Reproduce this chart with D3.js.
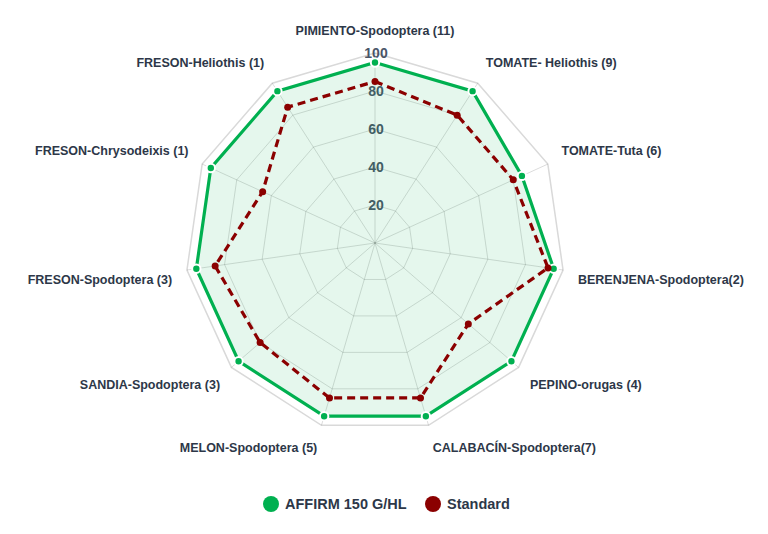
<!DOCTYPE html>
<html lang="es">
<head>
    <meta charset="UTF-8" />
    <title>Radar AFFIRM vs Standard</title>
    <script src="https://d3js.org/d3.v7.min.js"></script>
    <style>
        body {
            margin: 0;
            background: #fff;
            font-family: "Liberation Sans", Arial, sans-serif;
        }
        .point-label {
            font-size: 12.5px;
            font-weight: bold;
            fill: #2d3748;
        }
        .tick-label {
            font-size: 14px;
            font-weight: bold;
            fill: #4a5568;
        }
        .legend text {
            font-size: 14.5px;
            font-weight: bold;
            fill: #2d3748;
        }
    </style>
</head>
<body>
<svg id="chart" width="768" height="534"></svg>
<script>
    // Datos
    const categories = [
        "PIMIENTO-Spodoptera (11)",
        "TOMATE- Heliothis (9)",
        "TOMATE-Tuta (6)",
        "BERENJENA-Spodoptera(2)",
        "PEPINO-orugas (4)",
        "CALABACÍN-Spodoptera(7)",
        "MELON-Spodoptera (5)",
        "SANDIA-Spodoptera (3)",
        "FRESON-Spodoptera (3)",
        "FRESON-Chrysodeixis (1)",
        "FRESON-Heliothis (1)"
    ];
    const affirmValues = [95, 95, 85, 95, 95, 95, 95, 95, 95, 95, 95];
    const standardValues = [85, 80, 80, 92, 65, 85, 85, 80, 85, 65, 85];
    const tickValues = [20, 40, 60, 80, 100];
    const seriesNames = ["AFFIRM 150 G/HL", "Standard"];

    const cx = 375, cy = 243, radius = 190;
    const green = "#00b050", red = "#8b0000";

    const svg = d3.select("#chart");
    const g = svg.append("g").attr("transform", `translate(${cx},${cy})`);

    const r = d3.scaleLinear().domain([0, 100]).range([0, radius]);
    const angle = d3.scaleLinear()
        .domain([0, categories.length])
        .range([0, 2 * Math.PI]);

    const px = (i, v) => r(v) * Math.sin(angle(i));
    const py = (i, v) => -r(v) * Math.cos(angle(i));

    const idx = d3.range(categories.length);

    // Rejilla (anillos poligonales)
    const ringLine = d3.line().curve(d3.curveLinearClosed);
    tickValues.forEach(t => {
        g.append("path")
            .attr("d", ringLine(idx.map(i => [px(i, t), py(i, t)])))
            .attr("fill", "none")
            .attr("stroke", t === 100 ? "#d9d9d9" : "rgba(0,0,0,0.14)")
            .attr("stroke-width", t === 100 ? 1.5 : 1);
    });

    // Líneas de ángulo
    g.selectAll(".spoke")
        .data(idx)
        .enter().append("line")
        .attr("class", "spoke")
        .attr("x1", 0).attr("y1", 0)
        .attr("x2", i => px(i, 100))
        .attr("y2", i => py(i, 100))
        .attr("stroke", "rgba(0,0,0,0.14)")
        .attr("stroke-width", 1);

    // Etiquetas de los ejes
    g.selectAll(".point-label")
        .data(idx)
        .enter().append("text")
        .attr("class", "point-label")
        .attr("x", i => (r(100) + 15) * Math.sin(angle(i)))
        .attr("y", i => -(r(100) + 15) * Math.cos(angle(i)))
        .attr("text-anchor", i => i === 0 ? "middle" : (angle(i) < Math.PI ? "start" : "end"))
        .attr("dy", i => Math.cos(angle(i)) > 0 ? "-0.25em" : "0.95em")
        .text(i => categories[i]);

    // Etiquetas de valores
    g.selectAll(".tick-label")
        .data(tickValues)
        .enter().append("text")
        .attr("class", "tick-label")
        .attr("x", 1)
        .attr("y", t => -r(t))
        .attr("text-anchor", "middle")
        .attr("dy", "0.35em")
        .text(t => t);

    // Series
    const lineGen = d3.line()
        .x((v, i) => px(i, v))
        .y((v, i) => py(i, v))
        .curve(d3.curveLinearClosed);

    g.append("path")
        .attr("d", lineGen(affirmValues))
        .attr("fill", "rgba(0,176,80,0.1)")
        .attr("stroke", green)
        .attr("stroke-width", 3.2)
        .attr("stroke-linejoin", "miter");

    g.append("path")
        .attr("d", lineGen(standardValues))
        .attr("fill", "none")
        .attr("stroke", red)
        .attr("stroke-width", 3.2)
        .attr("stroke-dasharray", "8,5");

    g.selectAll(".dot-a")
        .data(affirmValues)
        .enter().append("circle")
        .attr("class", "dot-a")
        .attr("cx", (v, i) => px(i, v))
        .attr("cy", (v, i) => py(i, v))
        .attr("r", 4.2)
        .attr("fill", green)
        .attr("stroke", "#fff")
        .attr("stroke-width", 2);

    g.selectAll(".dot-s")
        .data(standardValues)
        .enter().append("circle")
        .attr("class", "dot-s")
        .attr("cx", (v, i) => px(i, v))
        .attr("cy", (v, i) => py(i, v))
        .attr("r", 3.5)
        .attr("fill", red);

    // Leyenda
    const legend = svg.append("g").attr("class", "legend");
    const legendColors = [green, red];
    const legendX = [271, 433];
    seriesNames.forEach((name, i) => {
        const lg = legend.append("g").attr("transform", `translate(${legendX[i]},504)`);
        lg.append("circle").attr("r", 8).attr("fill", legendColors[i]);
        lg.append("text").attr("x", 14).attr("dy", "0.36em").text(name);
    });
</script>
</body>
</html>
